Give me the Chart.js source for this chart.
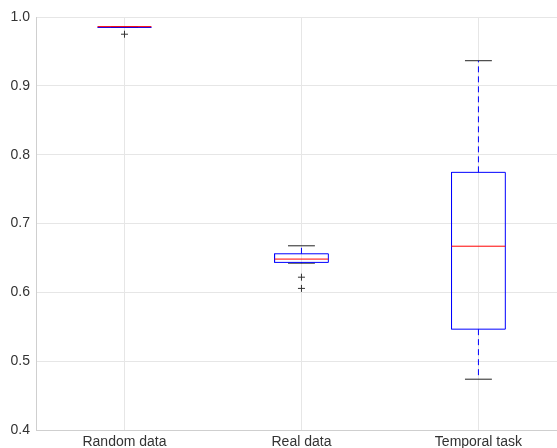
<!DOCTYPE html>
<html>
<head>
<meta charset="utf-8">
<script src="https://cdn.jsdelivr.net/npm/chart.js@4/dist/chart.umd.min.js"></script>
<style>
  html, body { margin: 0; padding: 0; background: #fff; }
  #wrap { width: 557px; height: 448px; }
</style>
</head>
<body>
<div id="wrap"><canvas id="boxChart"></canvas></div>
<script>
// Box plot data
const categories = ['Random data', 'Real data', 'Temporal task'];
const whiskerLow = [0.985, 0.6424, 0.4738];
const q1 = [0.985, 0.6435, 0.5465];
const median = [0.986, 0.6483, 0.667];
const q3 = [0.985, 0.656, 0.7743];
const whiskerHigh = [0.985, 0.6676, 0.9365];
const outliers = [[0.975], [0.622, 0.6057], []];
const yTicks = [0.4, 0.5, 0.6, 0.7, 0.8, 0.9, 1.0];

(function() {
    'use strict';

    const BOX_HALF = 0.152;
    const CAP_HALF = 0.076;
    const FONT = "'Liberation Sans', Arial, sans-serif";

    function seg(points, color, extra) {
        return Object.assign({
            type: 'scatter',
            data: points,
            showLine: true,
            borderColor: color,
            borderWidth: 1,
            pointRadius: 0,
            pointHoverRadius: 0,
            fill: false
        }, extra || {});
    }

    function buildDatasets() {
        const medians = [], boxes = [], whiskers = [], caps = [], fliers = [];
        categories.forEach((c, i) => {
            const x = i + 1;
            medians.push(seg([{x: x - BOX_HALF, y: median[i]}, {x: x + BOX_HALF, y: median[i]}], '#ff0000', {order: 0}));
            boxes.push(seg([
                {x: x - BOX_HALF, y: q1[i]}, {x: x + BOX_HALF, y: q1[i]},
                {x: x + BOX_HALF, y: q3[i]}, {x: x - BOX_HALF, y: q3[i]},
                {x: x - BOX_HALF, y: q1[i]}
            ], '#0000ff', {order: 1}));
            whiskers.push(seg([{x: x, y: q3[i]}, {x: x, y: whiskerHigh[i]}], '#0000ff', {borderDash: [6, 4], order: 2}));
            whiskers.push(seg([{x: x, y: q1[i]}, {x: x, y: whiskerLow[i]}], '#0000ff', {borderDash: [6, 4], order: 2}));
            caps.push(seg([{x: x - CAP_HALF, y: whiskerHigh[i]}, {x: x + CAP_HALF, y: whiskerHigh[i]}], '#222222', {order: 3}));
            caps.push(seg([{x: x - CAP_HALF, y: whiskerLow[i]}, {x: x + CAP_HALF, y: whiskerLow[i]}], '#222222', {order: 3}));
            outliers[i].forEach(v => fliers.push({x: x, y: v}));
        });
        const flierSet = {
            type: 'scatter',
            data: fliers,
            pointStyle: 'cross',
            pointRadius: 3.5,
            pointHoverRadius: 3.5,
            borderColor: '#333333',
            borderWidth: 1,
            backgroundColor: '#333333',
            order: 4
        };
        return medians.concat(boxes, whiskers, caps, [flierSet]);
    }

    const config = {
        type: 'scatter',
        data: { datasets: buildDatasets() },
        options: {
            responsive: true,
            maintainAspectRatio: false,
            animation: false,
            layout: {
                autoPadding: false,
                padding: { top: 17, right: 0, left: 0, bottom: 0 }
            },
            plugins: {
                legend: { display: false },
                tooltip: { enabled: false }
            },
            scales: {
                x: {
                    type: 'linear',
                    min: 0.5,
                    max: 3.444,
                    afterBuildTicks: function(axis) {
                        axis.ticks = categories.map((c, i) => ({ value: i + 1 }));
                    },
                    afterFit: function(axis) {
                        axis.height = 18;
                        axis.paddingLeft = 0;
                        axis.paddingRight = 0;
                    },
                    grid: { color: '#e6e6e6', drawTicks: false },
                    border: { color: '#cfcfcf' },
                    ticks: {
                        padding: 4,
                        color: '#333',
                        font: { size: 14, family: FONT },
                        callback: function(value) { return categories[Math.round(value) - 1] || ''; }
                    }
                },
                y: {
                    min: 0.4,
                    max: 1.0,
                    afterBuildTicks: function(axis) {
                        axis.ticks = yTicks.map(v => ({ value: v }));
                    },
                    afterFit: function(axis) {
                        axis.width = 36;
                        axis.paddingTop = 0;
                        axis.paddingBottom = 0;
                    },
                    grid: { color: '#e6e6e6', drawTicks: false },
                    border: { color: '#cfcfcf' },
                    ticks: {
                        padding: 6,
                        color: '#333',
                        font: { size: 14, family: FONT },
                        callback: function(value) { return value.toFixed(1); }
                    }
                }
            }
        }
    };

    try {
        new Chart(document.getElementById('boxChart'), config);
    } catch (error) {
        console.error('Error initializing chart:', error);
    }
})();
</script>
</body>
</html>
